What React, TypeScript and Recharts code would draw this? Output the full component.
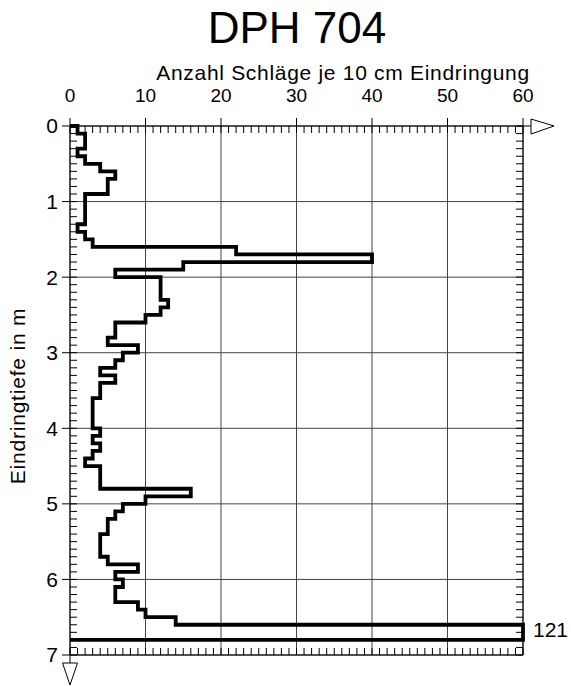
import React from 'react';
import { LineChart, Line, XAxis, YAxis, CartesianGrid, ReferenceDot } from 'recharts';

// Depth at the top of each 10 cm interval (m)
const depthTops = [
  0.0, 0.1, 0.2, 0.3, 0.4, 0.5, 0.6, 0.7, 0.8, 0.9,
  1.0, 1.1, 1.2, 1.3, 1.4, 1.5, 1.6, 1.7, 1.8, 1.9,
  2.0, 2.1, 2.2, 2.3, 2.4, 2.5, 2.6, 2.7, 2.8, 2.9,
  3.0, 3.1, 3.2, 3.3, 3.4, 3.5, 3.6, 3.7, 3.8, 3.9,
  4.0, 4.1, 4.2, 4.3, 4.4, 4.5, 4.6, 4.7, 4.8, 4.9,
  5.0, 5.1, 5.2, 5.3, 5.4, 5.5, 5.6, 5.7, 5.8, 5.9,
  6.0, 6.1, 6.2, 6.3, 6.4, 6.5, 6.6, 6.7,
];

// Blows per 10 cm penetration
const blowCounts = [
  1, 2, 2, 1, 2, 4, 6, 5, 5, 2,
  2, 2, 2, 1, 2, 3, 22, 40, 15, 6,
  12, 12, 12, 13, 12, 10, 6, 6, 5, 9,
  7, 6, 4, 6, 4, 4, 3, 3, 3, 3,
  4, 3, 4, 3, 2, 4, 4, 4, 16, 10,
  7, 6, 5, 5, 4, 4, 4, 5, 9, 6,
  7, 6, 6, 9, 10, 14, 121, 121,
];

const intervalStep = 0.1;
const endDepth = 6.8;

const xMajorTicks = [0, 10, 20, 30, 40, 50, 60];
const yMajorTicks = [0, 1, 2, 3, 4, 5, 6, 7];

const X_MAX = 60;
const Y_MAX = 7;

const xMinorTicks = Array.from({ length: X_MAX + 1 }, (_, i) => i);
const yMinorTicks = Array.from({ length: Y_MAX * 10 + 1 }, (_, i) => i / 10);

// Build the step path for the library
const stepPoints: { blows: number; depth: number }[] = [{ blows: 0, depth: 0 }];
depthTops.forEach((d, i) => {
  const v = Math.min(blowCounts[i], X_MAX);
  stepPoints.push({ blows: v, depth: d });
  stepPoints.push({ blows: v, depth: Math.round((d + intervalStep) * 100) / 100 });
});
stepPoints.push({ blows: 0, depth: endDepth });

const maxBlows = Math.max(...blowCounts);
const maxIdx = blowCounts.indexOf(maxBlows);
const overflowLabelDepth = (depthTops[maxIdx] + endDepth) / 2;

const W = 571;
const H = 686;
const PLOT_LEFT = 70;
const PLOT_TOP = 126;
const PLOT_RIGHT = 523;
const PLOT_BOTTOM = 655;
const Y_AXIS_W = 30;
const X_AXIS_H = 30;

const FONT = '"Liberation Sans", Arial, sans-serif';

const EmptyTick = () => <g />;

export default function App() {
  return (
    <div style={{ position: 'absolute', left: 0, top: 0, width: W, height: H, background: '#fff' }}>
      <LineChart
        width={W}
        height={H}
        data={stepPoints}
        margin={{
          top: PLOT_TOP - X_AXIS_H,
          left: PLOT_LEFT - Y_AXIS_W,
          right: W - PLOT_RIGHT,
          bottom: H - PLOT_BOTTOM,
        }}
      >
        <CartesianGrid xAxisId="top" yAxisId="left" stroke="#444" strokeWidth={1} />
        <XAxis
          xAxisId="top"
          orientation="top"
          type="number"
          dataKey="blows"
          domain={[0, X_MAX]}
          ticks={xMajorTicks}
          interval={0}
          height={X_AXIS_H}
          tickSize={8}
          tickMargin={16}
          axisLine={{ stroke: '#000' }}
          tickLine={{ stroke: '#000' }}
          tick={{ fill: '#000', fontSize: 19, fontFamily: FONT }}
        />
        <XAxis
          xAxisId="topMinor"
          orientation="top"
          type="number"
          dataKey="blows"
          domain={[0, X_MAX]}
          allowDataOverflow
          ticks={xMinorTicks}
          interval={0}
          mirror
          height={1}
          tickSize={7}
          axisLine={false}
          tickLine={{ stroke: '#000' }}
          tick={EmptyTick}
        />
        <XAxis
          xAxisId="bottomMinor"
          orientation="bottom"
          type="number"
          dataKey="blows"
          domain={[0, X_MAX]}
          allowDataOverflow
          ticks={xMinorTicks}
          interval={0}
          mirror
          height={1}
          tickSize={7}
          axisLine={{ stroke: '#000' }}
          tickLine={{ stroke: '#000' }}
          tick={EmptyTick}
        />
        <YAxis
          yAxisId="left"
          orientation="left"
          type="number"
          domain={[0, Y_MAX]}
          reversed
          ticks={yMajorTicks}
          interval={0}
          width={Y_AXIS_W}
          tickSize={8}
          tickMargin={4}
          axisLine={{ stroke: '#000' }}
          tickLine={{ stroke: '#000' }}
          tick={{ fill: '#000', fontSize: 21, fontFamily: FONT }}
        />
        <YAxis
          yAxisId="leftMinor"
          orientation="left"
          type="number"
          domain={[0, Y_MAX]}
          allowDataOverflow
          reversed
          ticks={yMinorTicks}
          interval={0}
          mirror
          width={1}
          tickSize={7}
          axisLine={false}
          tickLine={{ stroke: '#000' }}
          tick={EmptyTick}
        />
        <YAxis
          yAxisId="rightMinor"
          orientation="right"
          type="number"
          domain={[0, Y_MAX]}
          allowDataOverflow
          reversed
          ticks={yMinorTicks}
          interval={0}
          mirror
          width={1}
          tickSize={7}
          axisLine={{ stroke: '#000' }}
          tickLine={{ stroke: '#000' }}
          tick={EmptyTick}
        />
        <Line
          xAxisId="top"
          yAxisId="left"
          type="linear"
          dataKey="depth"
          stroke="#000"
          strokeWidth={3.8}
          strokeLinejoin="miter"
          dot={false}
          activeDot={false}
          isAnimationActive={false}
        />
        <ReferenceDot
          xAxisId="top"
          yAxisId="left"
          x={X_MAX}
          y={overflowLabelDepth}
          r={0}
          fill="none"
          stroke="none"
          label={{
            value: String(maxBlows),
            position: 'right',
            offset: 10,
            dy: -3,
            fill: '#000',
            fontSize: 21,
            fontFamily: FONT,
          }}
        />
      </LineChart>
      <svg
        width={W}
        height={H}
        style={{ position: 'absolute', left: 0, top: 0, pointerEvents: 'none' }}
      >
        <text x={297} y={43} textAnchor="middle" fontSize={44} fontFamily={FONT} fill="#000">
          DPH 704
        </text>
        <text
          x={343}
          y={80}
          textAnchor="middle"
          fontSize={21}
          letterSpacing={0.7}
          fontFamily={FONT}
          fill="#000"
        >
          Anzahl Schläge je 10 cm Eindringung
        </text>
        <text
          x={25}
          y={396}
          textAnchor="middle"
          fontSize={21}
          letterSpacing={0.8}
          fontFamily={FONT}
          fill="#000"
          transform="rotate(-90 25 396)"
        >
          Eindringtiefe in m
        </text>
        <line x1={PLOT_RIGHT} y1={PLOT_TOP} x2={531} y2={PLOT_TOP} stroke="#000" />
        <polygon points={`531,119 554,${PLOT_TOP} 531,134`} fill="#fff" stroke="#000" />
        <line x1={PLOT_LEFT} y1={PLOT_BOTTOM} x2={PLOT_LEFT} y2={663} stroke="#000" />
        <polygon points={`62.5,663 77.5,663 ${PLOT_LEFT},685`} fill="#fff" stroke="#000" />
      </svg>
    </div>
  );
}
